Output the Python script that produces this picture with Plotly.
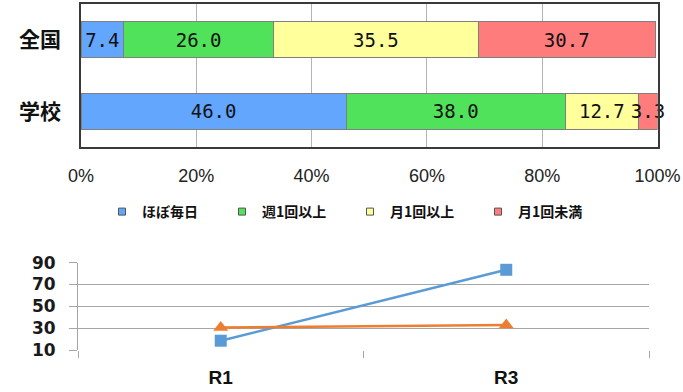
import plotly.graph_objects as go

# Stacked share of study frequency (percent)
groups = ["全国", "学校"]
freq_labels = ["ほぼ毎日", "週1回以上", "月1回以上", "月1回未満"]
share_nation = [7.4, 26.0, 35.5, 30.7]
share_school = [46.0, 38.0, 12.7, 3.3]
bar_colors = ["#62a6fd", "#50e25a", "#ffff9c", "#ff7c7c"]

# Trend by survey year
years = ["R1", "R3"]
trend_blue = [18.5, 83.5]
trend_orange = [30.6, 32.9]
pct_ticks = [0, 20, 40, 60, 80, 100]
pct_text = [f"{v}%" for v in pct_ticks]
trend_ticks = [10, 30, 50, 70, 90]

W, H = 683, 392
legend_text_x = [142, 262, 390, 518]   # left edge of each legend label, px

fig = go.Figure()

for i, name in enumerate(freq_labels):
    vals = [share_nation[i], share_school[i]]
    fig.add_trace(go.Bar(
        x=vals, y=groups, orientation="h", name=name, showlegend=False,
        marker=dict(color=bar_colors[i], line=dict(color="#7f7f7f", width=1)),
        texttemplate="%{x:.1f}", textposition="inside", textangle=0,
        insidetextanchor="middle", constraintext="none",
        insidetextfont=dict(family="DejaVu Sans Mono", size=19, color="#111111"),
        xaxis="x", yaxis="y", cliponaxis=False,
    ))
    # legend entry with a small square swatch, one legend box per entry
    lg = "legend" if i == 0 else f"legend{i + 1}"
    fig.add_trace(go.Scatter(
        x=[None], y=[None], mode="markers", name=name, legend=lg,
        marker=dict(symbol="square", size=7, color=bar_colors[i],
                    line=dict(color="#555555", width=1)),
        xaxis="x", yaxis="y", hoverinfo="skip",
    ))

fig.add_trace(go.Scatter(
    x=years, y=trend_blue, mode="lines+markers", showlegend=False,
    line=dict(color="#5b9bd5", width=2.5),
    marker=dict(symbol="square", size=12, color="#5b9bd5"),
    xaxis="x2", yaxis="y2", cliponaxis=False,
))
fig.add_trace(go.Scatter(
    x=years, y=trend_orange, mode="lines+markers", showlegend=False,
    line=dict(color="#ed7d31", width=2.5),
    marker=dict(symbol="triangle-up", size=13, color="#ed7d31"),
    xaxis="x2", yaxis="y2", cliponaxis=False,
))

legend_font = dict(family="Noto Sans CJK JP", size=14, color="#111111", weight="bold")
legends = {}
for i, tx in enumerate(legend_text_x):
    key = "legend" if i == 0 else f"legend{i + 1}"
    legends[key] = dict(
        x=(tx - 40) / W, xanchor="left", y=1 - 212 / H, yanchor="middle",
        font=legend_font, bgcolor="rgba(0,0,0,0)", borderwidth=0,
        itemclick=False, itemdoubleclick=False,
    )

fig.update_layout(
    template="none",
    width=W, height=H,
    margin=dict(l=0, r=0, t=0, b=0, autoexpand=False),
    paper_bgcolor="white", plot_bgcolor="white",
    barmode="stack", bargap=0.497,
    uniformtext=dict(minsize=19, mode="show"),
    showlegend=True,
    **legends,
    xaxis=dict(
        domain=[81 / W, 657.5 / W], anchor="y", automargin=False,
        range=[0, 100], tickvals=pct_ticks, ticktext=pct_text,
        showgrid=True, gridcolor="#b4b4b4", gridwidth=1,
        showline=True, mirror=True, linecolor="#3a3a3a", linewidth=1.5,
        zeroline=False, ticks="", ticklabelstandoff=12,
        tickfont=dict(family="Liberation Sans", size=18, color="#222222"),
    ),
    yaxis=dict(
        domain=[1 - 147 / H, 1 - 4 / H], anchor="x", automargin=False,
        categoryorder="array", categoryarray=groups, autorange="reversed",
        showline=True, mirror=True, linecolor="#3a3a3a", linewidth=1.5,
        showgrid=False, zeroline=False, ticks="", ticklabelstandoff=14,
        tickfont=dict(family="Noto Sans CJK JP", size=21, color="#111111", weight="bold"),
    ),
    xaxis2=dict(
        domain=[78 / W, 649 / W], anchor="y2", automargin=False,
        type="category", range=[-0.5, 1.5],
        showgrid=False, showline=False, zeroline=False,
        ticks="outside", tickson="boundaries", ticklen=7,
        tickcolor="#a6a6a6", tickwidth=1, ticklabelstandoff=14,
        tickfont=dict(family="Liberation Sans", size=19, color="#111111", weight="bold"),
    ),
    yaxis2=dict(
        domain=[1 - 350 / H, 1 - 262.7 / H], anchor="x2", automargin=False,
        range=[10, 90], tickvals=trend_ticks,
        showgrid=True, gridcolor="#a6a6a6", gridwidth=1,
        showline=True, linecolor="#a6a6a6", linewidth=1,
        zeroline=False, ticks="outside", ticklen=8,
        tickcolor="#a6a6a6", ticklabelstandoff=10,
        tickfont=dict(family="DejaVu Sans", size=17, color="#1a1a1a", weight="bold"),
    ),
)

fig.write_html("out.html")
